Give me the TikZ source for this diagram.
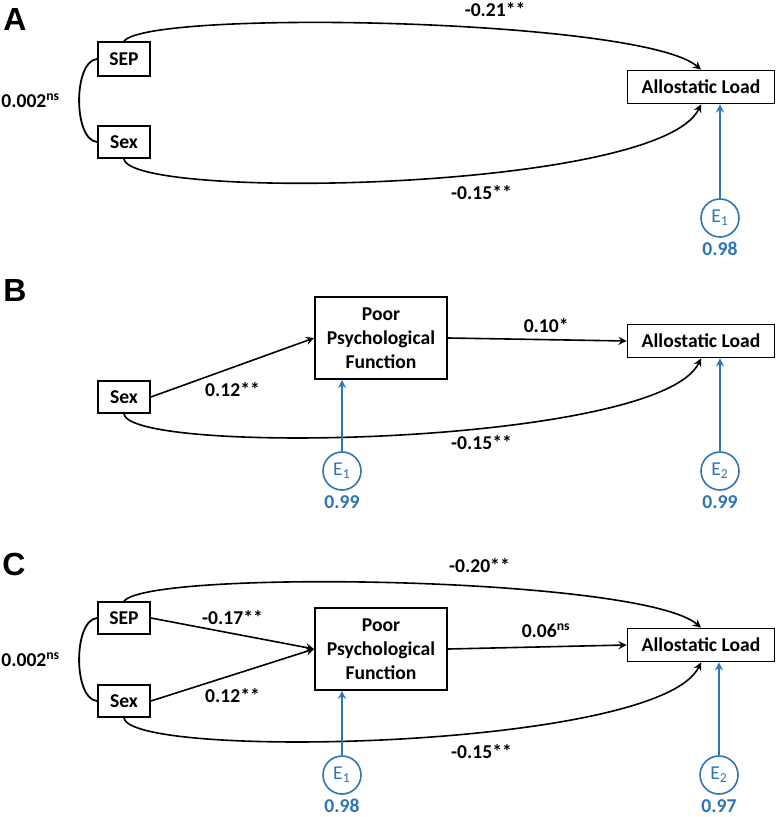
\documentclass[tikz,border=0pt]{standalone}
\usepackage{fontspec}
\setmainfont{Carlito}
\newfontfamily\panelfont{Liberation Sans}
\usetikzlibrary{positioning, arrows}
\definecolor{errblue}{HTML}{2E75B6}

\begin{document}
\begin{tikzpicture}[x=0.5pt, y=-0.5pt, >=stealth,
    font=\fontsize{9.8}{12}\selectfont\bfseries,
    var/.style={draw, line width=0.9pt, inner sep=0pt, minimum width=26pt, minimum height=16pt},
    outcome/.style={var, minimum width=73.5pt, minimum height=16.5pt},
    mediator/.style={var, minimum width=66pt, minimum height=41pt, align=center},
    err/.style={circle, draw=errblue, text=errblue, line width=0.8pt, minimum size=19pt, inner sep=0pt,
        font=\fontsize{9.8}{12}\selectfont\mdseries},
    errval/.style={text=errblue, inner sep=0pt},
    coef/.style={inner sep=1pt},
    eff/.style={->, line width=0.8pt},
    erreff/.style={->, draw=errblue, line width=0.8pt},
    cov/.style={line width=0.9pt},
    panel/.style={font=\panelfont\bfseries\fontsize{16}{16}\selectfont, inner sep=0pt}]
    \useasboundingbox (0,0) rectangle (778,817);

    % A: total effects
    \node[panel] (pA) at (15,19) {A};
    \node[var, minimum height=17pt] (SEPa) at (124,59) {SEP};
    \node[var] (SEXa) at (124,142) {Sex};
    \node[outcome] (ALa) at (701,87) {Allostatic Load};
    \node[err] (E1a) at (720,218) {E\textsubscript{1}};
    \node[errval, below=2pt of E1a] (r1a) {0.98};

    \draw[cov] (SEPa.west) .. controls +(-24,2) and +(-24,-2) .. (SEXa.west)
        node[coef, midway, left=8pt] {0.002\textsuperscript{ns}};
    \draw[eff] (SEPa.north) .. controls +(26,-32) and +(-60,-51) .. (ALa.north)
        node[coef, pos=0.62, above=5pt] {-0.21**};
    \draw[eff] (SEXa.south) .. controls +(6,42) and +(-42,87) .. (ALa.south)
        node[coef, pos=0.6, below=4.5pt] {-0.15**};
    \draw[erreff] (E1a) -- (E1a |- ALa.south);

    % B: sex -> psych -> AL
    \node[panel] (pB) at (15,290) {B};
    \node[mediator] (PPFb) at (381,338) {Poor\\Psychological\\Function};
    \node[var] (SEXb) at (124,397) {Sex};
    \node[outcome] (ALb) at (701,341) {Allostatic Load};
    \node[err] (E1b) at (342,471) {E\textsubscript{1}};
    \node[errval, below=2pt of E1b] (r1b) {0.99};
    \node[err] (E2b) at (720,471) {E\textsubscript{2}};
    \node[errval, below=2pt of E2b] (r2b) {0.99};

    \draw[eff] (SEXb.east) -- (PPFb.west) node[coef, midway, below=6pt] {0.12**};
    \draw[eff] (PPFb.east) -- (ALb.west) node[coef, pos=0.55, above=2pt] {0.10*};
    \draw[eff] (SEXb.south) .. controls +(6,42) and +(-42,87) .. (ALb.south)
        node[coef, pos=0.6, below=2.5pt] {-0.15**};
    \draw[erreff] (E1b) -- (E1b |- PPFb.south);
    \draw[erreff] (E2b) -- (E2b |- ALb.south);

    % C: full model
    \node[panel] (pC) at (14,564) {C};
    \node[var] (SEPc) at (124,618) {SEP};
    \node[var] (SEXc) at (124,701) {Sex};
    \node[mediator] (PPFc) at (381,649) {Poor\\Psychological\\Function};
    \node[outcome] (ALc) at (701,645) {Allostatic Load};
    \node[err] (E1c) at (342,775) {E\textsubscript{1}};
    \node[errval, below=2pt of E1c] (r1c) {0.98};
    \node[err] (E2c) at (719,775) {E\textsubscript{2}};
    \node[errval, below=2pt of E2c] (r2c) {0.97};

    \draw[cov] (SEPc.west) .. controls +(-24,2) and +(-24,-2) .. (SEXc.west)
        node[coef, midway, left=8pt] {0.002\textsuperscript{ns}};
    \draw[eff] (SEPc.east) -- (PPFc.west) node[coef, midway, above=3pt] {-0.17**};
    \draw[eff] (SEXc.east) -- (PPFc.west) node[coef, midway, below=5.5pt] {0.12**};
    \draw[eff] (PPFc.east) -- (ALc.west) node[coef, pos=0.55, above=3pt] {0.06\textsuperscript{ns}};
    \draw[eff] (SEPc.north) .. controls +(26,-32) and +(-60,-51) .. (ALc.north)
        node[coef, pos=0.6, above=6pt] {-0.20**};
    \draw[eff] (SEXc.south) .. controls +(6,42) and +(-42,87) .. (ALc.south)
        node[coef, pos=0.6, below=5pt] {-0.15**};
    \draw[erreff] (E1c) -- (E1c |- PPFc.south);
    \draw[erreff] (E2c) -- (E2c |- ALc.south);
\end{tikzpicture}
\end{document}
